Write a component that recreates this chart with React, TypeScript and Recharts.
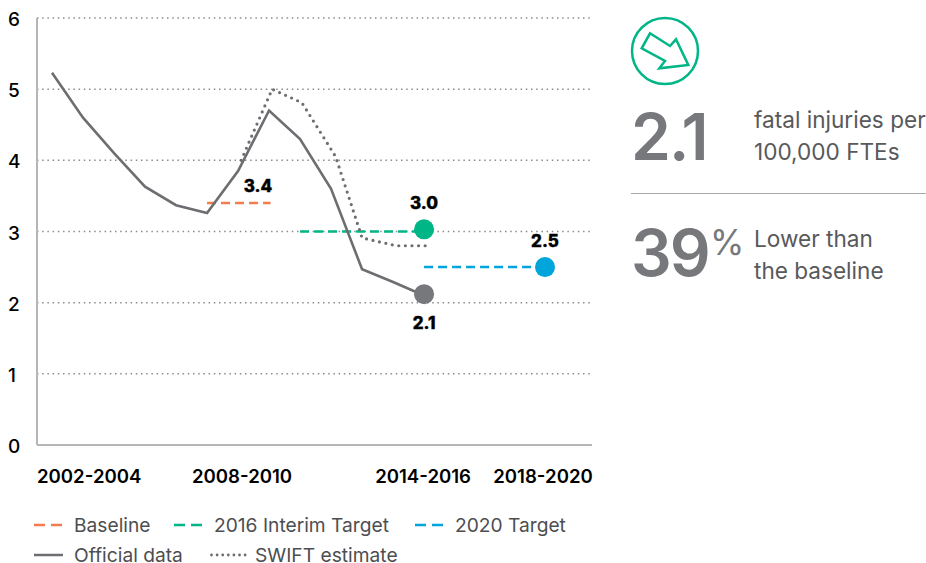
import React from "react";
import { LineChart, Line, XAxis, YAxis, CartesianGrid, Legend } from "recharts";

const FONT = "Inter, 'Noto Sans', sans-serif";
const ORANGE = "#f47b50";
const GREEN = "#00b586";
const BLUE = "#00a5db";
const GREY = "#6d6e71";

const years = [2002, 2003, 2004, 2005, 2006, 2007, 2008, 2009, 2010, 2011, 2012, 2013, 2014, 2017.9];
const official = [5.23, 4.6, 4.1, 3.63, 3.37, 3.26, 3.85, 4.7, 4.3, 3.6, 2.47, 2.29, 2.1, null];
const officialDot = [null, null, null, null, null, null, null, null, null, null, null, null, 2.12, null];
const interim = [null, null, null, null, null, null, null, null, 3.0, 3.0, 3.0, 3.0, 3.0, null];
const interimDot = [null, null, null, null, null, null, null, null, null, null, null, null, 3.03, null];
const target = [null, null, null, null, null, null, null, null, null, null, null, null, 2.5, 2.5];
const targetDot = [null, null, null, null, null, null, null, null, null, null, null, null, null, 2.5];

const swiftYears = [2008.1, 2009.1, 2010.06, 2011.15, 2012, 2013.1, 2014.1];
const swift = [4.0, 5.0, 4.81, 4.05, 2.91, 2.8, 2.8];
const baselineYears = [2007, 2008, 2009.05];
const baseline = [3.4, 3.4, 3.4];

const tickValues = [2002, 2008, 2014, 2017.9];
const tickLabels = ["2002-2004", "2008-2010", "2014-2016", "2018-2020"];
const yTicks = [0, 1, 2, 3, 4, 5, 6];

const rows = years.map((year, i) => ({
  year,
  official: official[i],
  officialDot: officialDot[i],
  interim: interim[i],
  interimDot: interimDot[i],
  target: target[i],
  targetDot: targetDot[i],
}));
const swiftRows = swiftYears.map((year, i) => ({ year, swift: swift[i] }));
const baselineRows = baselineYears.map((year, i) => ({ year, baseline: baseline[i] }));

const tickShift = [-15, 4, -1, -2];
const tickAnchor = ["start", "middle", "middle", "middle"];

const XTick = (p: any) => {
  const i = tickValues.indexOf(p.payload.value);
  if (i < 0) return null;
  return (
    <text x={p.x + tickShift[i]} y={483} textAnchor={tickAnchor[i]} fontFamily={FONT} fontSize={18.6} fontWeight={600} fill="#000">
      {tickLabels[i]}
    </text>
  );
};

const YTick = (p: any) => (
  <text x={8} y={p.y + 8} textAnchor="start" fontFamily={FONT} fontSize={19} fontWeight={500} fill="#000">
    {p.payload.value}
  </text>
);

const pointLabel = (showAt: number, dx: number, dy: number) => (p: any) => {
  if (p.index !== showAt || p.value == null) return <g key={p.index} />;
  return (
    <text key={p.index} x={p.x + dx} y={p.y + dy} textAnchor="middle" fontFamily={FONT} fontSize={17} fontWeight={800} fill="#000" stroke="#000" strokeWidth={0.4}>
      {Number(p.value).toFixed(1)}
    </text>
  );
};

const bigDot = (color: string) => (p: any) => {
  if (p.value == null) return <g key={p.index} />;
  return <circle key={p.index} cx={p.cx} cy={p.cy} r={10} fill={color} />;
};

const legendSlots: Record<string, { x: number; y: number }> = {
  Baseline: { x: 34, y: 525 },
  "2016 Interim Target": { x: 174, y: 525 },
  "2020 Target": { x: 415, y: 525 },
  "Official data": { x: 34, y: 555 },
  "SWIFT estimate": { x: 210, y: 555 },
};

const Swatch = ({ color, kind }: { color: string; kind: string }) => {
  if (kind === "dash")
    return <svg width={28} height={4} style={{ display: "block" }}><line x1={0} x2={28} y1={2} y2={2} stroke={color} strokeWidth={2.5} strokeDasharray="11 6" /></svg>;
  if (kind === "dot")
    return <svg width={38} height={4} style={{ display: "block" }}><line x1={1.5} x2={37} y1={2} y2={2} stroke={color} strokeWidth={2.8} strokeLinecap="round" strokeDasharray="0 5.6" /></svg>;
  return <svg width={29} height={4} style={{ display: "block" }}><line x1={0} x2={29} y1={2} y2={2} stroke={color} strokeWidth={2.5} /></svg>;
};

const LegendContent = (props: any) => (
  <div>
    {(props.payload || []).map((e: any) => {
      const slot = legendSlots[e.value];
      if (!slot) return null;
      const kind = e.value === "Official data" ? "solid" : e.value === "SWIFT estimate" ? "dot" : "dash";
      const gap = kind === "dot" ? 45 : 40;
      return (
        <div key={e.value} style={{ position: "absolute", left: slot.x, top: slot.y - 5, height: 10, whiteSpace: "nowrap" }}>
          <div style={{ position: "absolute", left: 0, top: 3 }}><Swatch color={e.color} kind={kind} /></div>
          <div style={{ position: "absolute", left: gap, top: 0, font: `19.2px / 10px ${FONT}`, color: "#4d4e50" }}>{e.value}</div>
        </div>
      );
    })}
  </div>
);

const textStyle: React.CSSProperties = { position: "absolute", left: 754, fontFamily: FONT, fontSize: 22.6, color: "#58595b", lineHeight: "32px", whiteSpace: "nowrap" };
const bigStyle: React.CSSProperties = { position: "absolute", left: 631, fontFamily: FONT, fontSize: 64, fontWeight: 600, color: "#77787b", lineHeight: "64px", letterSpacing: -2, whiteSpace: "nowrap" };

export default function App() {
  return (
    <div style={{ position: "absolute", left: 0, top: 0, width: 926, height: 563, overflow: "hidden", background: "#fff" }}>
      <LineChart width={926} height={563} data={rows} margin={{ top: 18, right: 334, bottom: 88, left: 0 }}>
        <CartesianGrid horizontal vertical={false} stroke="#8a8b8d" strokeWidth={1.5} strokeDasharray="1.5 3.7" />
        <XAxis
          dataKey="year"
          type="number"
          domain={[2002, 2017.9]}
          ticks={tickValues}
          padding={{ left: 15, right: 47 }}
          height={30}
          axisLine={{ stroke: "#b5b6b8", strokeWidth: 2 }}
          tickLine={false}
          tick={XTick}
          interval={0}
        />
        <YAxis
          width={37}
          domain={[0, 6]}
          ticks={yTicks}
          axisLine={{ stroke: "#b5b6b8", strokeWidth: 2 }}
          tickLine={false}
          tick={YTick}
          interval={0}
        />
        <Legend content={LegendContent} wrapperStyle={{ left: 0, top: 0, width: 0, height: 0, bottom: "auto" }} />
        <Line name="Baseline" data={baselineRows} dataKey="baseline" stroke={ORANGE} strokeWidth={2.5} strokeDasharray="9 5" dot={false} isAnimationActive={false} label={pointLabel(1, 20, -11)} />
        <Line name="2016 Interim Target" dataKey="interim" stroke={GREEN} strokeWidth={2.5} strokeDasharray="9 5" dot={false} isAnimationActive={false} />
        <Line name="2020 Target" dataKey="target" stroke={BLUE} strokeWidth={2.5} strokeDasharray="9 5" dot={false} isAnimationActive={false} />
        <Line name="SWIFT estimate" data={swiftRows} dataKey="swift" stroke={GREY} strokeWidth={3.2} strokeLinecap="round" strokeDasharray="0 6.6" dot={false} isAnimationActive={false} />
        <Line name="Official data" dataKey="official" stroke={GREY} strokeWidth={2.6} dot={false} isAnimationActive={false} />
        <Line name="officialDotMark" legendType="none" dataKey="officialDot" stroke="none" dot={bigDot("#77787b")} isAnimationActive={false} label={pointLabel(12, 0, 35)} />
        <Line name="interimDotMark" legendType="none" dataKey="interimDot" stroke="none" dot={bigDot(GREEN)} isAnimationActive={false} label={pointLabel(12, 0, -20)} />
        <Line name="targetDotMark" legendType="none" dataKey="targetDot" stroke="none" dot={bigDot(BLUE)} isAnimationActive={false} label={pointLabel(13, 0, -20)} />
      </LineChart>

      <svg width={80} height={80} style={{ position: "absolute", left: 625, top: 11 }}>
        <circle cx={40} cy={40} r={33} fill="none" stroke={GREEN} strokeWidth={2.5} />
        <polygon points="25,22.3 45,35 51,28.3 63.3,54 34.3,57.3 40,50 16.7,37.3" fill="none" stroke={GREEN} strokeWidth={2.5} />
      </svg>

      <div style={{ ...bigStyle, top: 105 }}>2.1</div>
      <div style={{ ...textStyle, top: 104 }}>fatal injuries per</div>
      <div style={{ ...textStyle, top: 136 }}>100,000 FTEs</div>
      <div style={{ position: "absolute", left: 631, top: 193, width: 295, height: 1, background: "#a7a8aa" }} />
      <div style={{ ...bigStyle, top: 221 }}>39</div>
      <div style={{ position: "absolute", left: 710, top: 222, fontFamily: FONT, fontSize: 35, lineHeight: "40px", color: "#77787b" }}>%</div>
      <div style={{ ...textStyle, top: 223 }}>Lower than</div>
      <div style={{ ...textStyle, top: 255 }}>the baseline</div>
    </div>
  );
}
